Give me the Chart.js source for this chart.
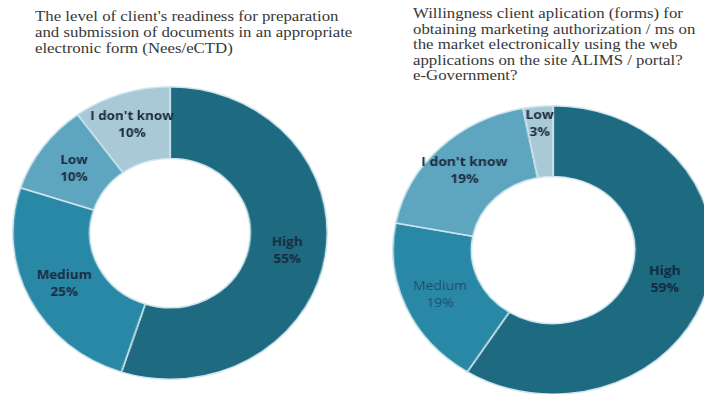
<!DOCTYPE html>
<html>
<head>
<meta charset="utf-8">
<script src="https://cdn.jsdelivr.net/npm/chart.js@4.4.1/dist/chart.umd.min.js"></script>
<style>
  html, body { margin: 0; padding: 0; overflow: hidden; background: #fff; }
  body { width: 704px; height: 394px; position: relative; }
  .title {
    position: absolute;
    font-family: "Liberation Serif", "Times New Roman", serif;
    font-size: 15px;
    color: #383838;
    white-space: nowrap;
    transform-origin: 0 0;
    transform: scaleX(1.12);
  }
  #leftTitle { left: 35px; top: 8px; line-height: 16px; }
  #rightTitle { left: 413px; top: 6px; line-height: 15.5px; }
  .donut { position: absolute; transform-origin: 50% 50%; }
  #leftBox { left: 23px; top: 86px; width: 294px; height: 294px; transform: scaleX(1.075); }
  #rightBox { left: 408px; top: 105px; width: 290px; height: 290px; transform: scaleX(1.11); }
</style>
</head>
<body>
<div class="title" id="leftTitle">The level of client's readiness for preparation<br>and submission of documents in an appropriate<br>electronic form (Nees/eCTD)</div>
<div class="title" id="rightTitle">Willingness client aplication (forms) for<br>obtaining marketing authorization / ms on<br>the market electronically using the web<br>applications on the site ALIMS / portal?<br>e-Government?</div>
<div class="donut" id="leftBox"><canvas id="leftChart"></canvas></div>
<div class="donut" id="rightBox"><canvas id="rightChart"></canvas></div>

<script>
// readiness for electronic documents (Nees/eCTD)
const readinessLabels = ["High", "Medium", "Low", "I don't know"];
const readinessValues = [55, 25, 10, 10];

// willingness to use the web applications
const willingnessLabels = ["High", "Medium", "I don't know", "Low"];
const willingnessValues = [59, 19, 19, 3];

// slice shades go from dark to light, clockwise from the top
const sliceColors = ["#1d6a81", "#2a88a7", "#5ea5bf", "#a9c9d6"];

// writes "name" and "nn%" in the middle of each slice
const sliceLabels = {
    id: "sliceLabels",
    afterDatasetsDraw(chart, args, opts) {
        const ctx = chart.ctx;
        const meta = chart.getDatasetMeta(0);
        const values = chart.data.datasets[0].data;
        meta.data.forEach((arc, i) => {
            const pos = arc.tooltipPosition();
            const shift = (opts.shift && opts.shift[i]) || 0;
            const mid = (arc.startAngle + arc.endAngle) / 2;
            const x = pos.x + Math.cos(mid) * shift;
            const y = pos.y + Math.sin(mid) * shift;
            ctx.save();
            ctx.textAlign = "center";
            ctx.textBaseline = "middle";
            ctx.fillStyle = (opts.colors && opts.colors[i]) || "#1a2a3c";
            ctx.font = ((opts.weights && opts.weights[i]) || "bold") + " 12.5px 'Open Sans', sans-serif";
            ctx.fillText(chart.data.labels[i], x, y - 8);
            ctx.fillText(values[i] + "%", x, y + 9);
            ctx.restore();
        });
    }
};

function makeDonut(canvasId, labels, values, labelOpts) {
    return new Chart(document.getElementById(canvasId), {
        type: "doughnut",
        data: {
            labels: labels,
            datasets: [{
                data: values,
                backgroundColor: sliceColors,
                borderColor: "#cfe6ee",
                borderWidth: 1.5
            }]
        },
        options: {
            responsive: true,
            maintainAspectRatio: false,
            animation: false,
            cutout: "51%",
            layout: {padding: 0},
            plugins: {
                legend: {display: false},
                tooltip: {enabled: false},
                sliceLabels: labelOpts
            }
        },
        plugins: [sliceLabels]
    });
}

makeDonut("leftChart", readinessLabels, readinessValues, {
    shift: [0, 0, 0, 4]
});
makeDonut("rightChart", willingnessLabels, willingnessValues, {
    shift: [-4, 2, 4, 18],
    weights: ["bold", "normal", "bold", "bold"],
    colors: ["#14283c", "#1f4b6b", "#1a2a3c", "#1a2a3c"]
});
</script>
</body>
</html>
